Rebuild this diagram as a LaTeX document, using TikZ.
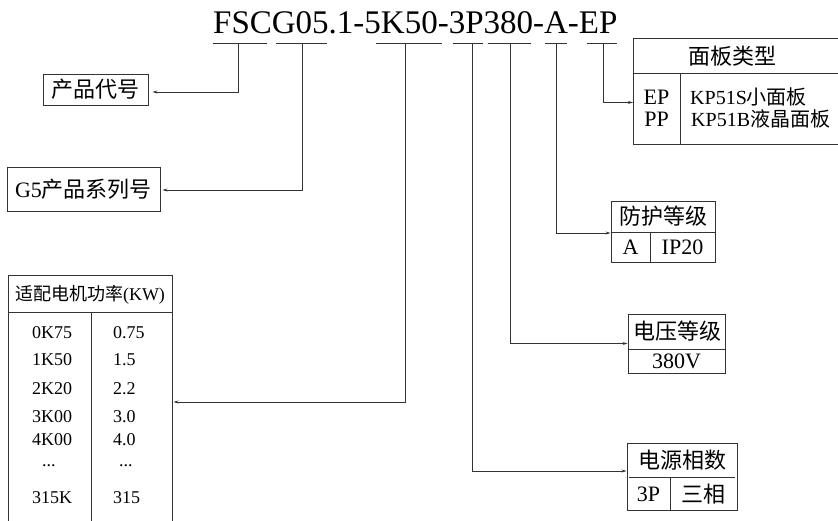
\documentclass[tikz,border=0pt]{standalone}
\usepackage{fontspec}
\setmainfont{Liberation Serif}
\newfontfamily\cjk{Noto Sans CJK SC}
\usetikzlibrary{arrows.meta}

\begin{document}
\begin{tikzpicture}[x=1pt,y=-1pt,
  every node/.style={inner sep=0pt,text=black},
  rule/.style={draw=black!80,line width=0.9pt},
  tbl/.style={rule},
  link/.style={rule,-{Stealth[length=5pt,width=3pt]}},
  zh/.style={font=\cjk\fontsize{22}{22}\selectfont},
  en/.style={font=\fontsize{22}{22}\selectfont},
  kp/.style={font=\fontsize{20}{20}\selectfont},
  mt/.style={font=\fontsize{18}{18}\selectfont}]
\clip (0,0) rectangle (838,520);
% model code and its underlines
\node[font=\fontsize{33}{33}\selectfont,anchor=base west] (model) at (213,33.5) {FSCG05.1-5K50-3P380-A-EP};
\foreach \a/\b/\m/\n in {213/267/238/uFSC,276/327/302/uG05,376/442/405/uPow,453/483/472/uPh,488/531/510/uVolt,545/567/556/uProt,587/617/603/uPanel}
{\draw[rule] (\a,43) -- (\b,43); \coordinate (\n) at (\m,43);}

% product code
\node[tbl,zh,minimum width=105pt,minimum height=31pt] (prod) at (95.5,89.5) {产品代号};
\draw[link,shorten >=4pt] (uFSC) |- ([yshift=-2.5pt]prod.east);

% series
\node[tbl,en,minimum width=153pt,minimum height=44pt] (series) at (83.5,189) {G5{\cjk 产品系列号}};
\draw[link,shorten >=2pt] (uG05) |- ([yshift=-1pt]series.east);

% motor power table
\node[tbl,minimum width=164pt,minimum height=260pt] (motor) at (90,405) {};
\draw[rule] (8,312) -- (172,312);
\draw[rule] (91,312) -- (91,535);
\node[mt] (motorhead) at (90,295) {{\cjk 适配电机功率}(KW)};
\foreach \c/\v/\y in {0K75/0.75/333,1K50/1.5/360,2K20/2.2/389,3K00/3.0/417,4K00/4.0/440,315K/315/498}
{\node[mt,anchor=west] (k\y) at (32,\y) {\c}; \node[mt,anchor=west] (w\y) at (113,\y) {\v};}
\node[mt,anchor=west] (kdots) at (42,466) {...};
\node[mt,anchor=west] (wdots) at (119,466) {...};
\draw[link,shorten >=1pt] (uPow) |- ([yshift=3pt]motor.east);

% panel type table
\node[tbl,minimum width=210pt,minimum height=106pt,anchor=north west] (panel) at (633,38) {};
\draw[rule] (633,73) -- (843,73);
\draw[rule] (680,73) -- (680,144);
\node[zh] (panelhead) at (732,56) {面板类型};
\node[en] (ep) at (656.5,97) {EP};
\node[en] (pp) at (656.5,119) {PP};
\node[kp,anchor=west] (kp51s) at (690,97) {KP51S{\cjk 小面板}};
\node[kp,anchor=west] (kp51b) at (691,119) {KP51B{\cjk 液晶面板}};
\draw[link] (uPanel) |- ([yshift=-11pt]panel.west);

% protection grade table
\node[tbl,minimum width=104pt,minimum height=61pt] (prot) at (663,231.5) {};
\draw[rule] (611,232) -- (715,232);
\draw[rule] (650,232) -- (650,262);
\node[zh] (prothead) at (663,216) {防护等级};
\node[en] (pa) at (630.5,247.5) {A};
\node[en] (ip20) at (682.5,247.5) {IP20};
\draw[link] (uProt) |- ([yshift=-1.5pt]prot.west);

% voltage table
\node[tbl,minimum width=97pt,minimum height=59pt] (volt) at (676.5,343.5) {};
\draw[rule] (628,349) -- (725,349);
\node[zh] (volthead) at (677,331) {电压等级};
\node[en] (v380) at (676.5,361.5) {380V};
\draw[link] (uVolt) |- (volt.west);

% phase table
\node[tbl,minimum width=110pt,minimum height=67pt] (phase) at (682,476.5) {};
\draw[rule] (629,477) -- (735,477);
\draw[rule] (670,477) -- (670,510);
\node[zh] (phasehead) at (682,460) {电源相数};
\node[en] (p3) at (648.5,494) {3P};
\node[zh] (three) at (703.5,494) {三相};
\draw[link] (uPh) |- ([yshift=5.5pt]phase.west);
\end{tikzpicture}
\end{document}
